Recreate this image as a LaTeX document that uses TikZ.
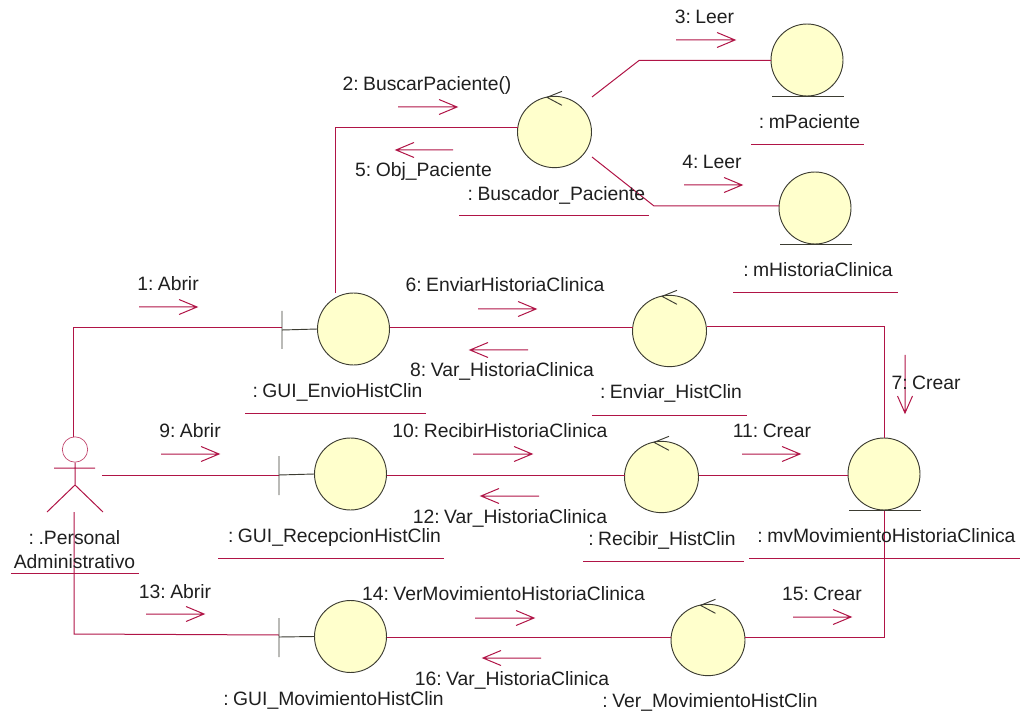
\documentclass[tikz,border=0pt]{standalone}
\usepackage{fontspec}
\setmainfont[WordSpace=0.5]{Liberation Sans}
\usetikzlibrary{calc,shapes.geometric}
\definecolor{ln}{RGB}{176,20,70}
\definecolor{fillc}{RGB}{255,255,204}
\definecolor{edgec}{RGB}{60,60,50}
\tikzset{
 x=0.75pt,y=-0.75pt,
 conn/.style={draw=ln,line width=0.75pt},
 ball/.style={circle,draw=edgec,fill=fillc,line width=0.7pt,minimum size=54pt,inner sep=0pt,outer sep=0pt},
 cball/.style={ellipse,draw=edgec,fill=fillc,line width=0.7pt,minimum width=55.5pt,minimum height=53.5pt,inner sep=0pt,outer sep=0pt},
 glyph/.style={draw=edgec,line width=0.7pt},
 lbl/.style={font=\fontsize{14.5}{18}\selectfont,inner sep=0pt,text=black!88,align=center,text height=10pt,text depth=3pt,yshift=-1.5pt},
 msg/.style={draw=ln,line width=0.75pt},
}
\newcommand{\marrowR}[3]{%
 \draw[msg] (#1,#3) -- (#2,#3) (#2-18,#3-7.5) -- (#2,#3) -- (#2-18,#3+7.5);}
\newcommand{\marrowL}[3]{%
 \draw[msg] (#1,#3) -- (#2,#3) (#2+18,#3-7.5) -- (#2,#3) -- (#2+18,#3+7.5);}
\newcommand{\ctrl}[1]{%
 \draw[glyph] ($(#1.north)+(7.5,-5)$) -- ($(#1.north)+(-7.5,1)$) -- ($(#1.north)+(7.5,9)$);}
\newcommand{\under}[3]{\draw[conn] (#1,#3) -- (#2,#3);}
\begin{document}
\begin{tikzpicture}
\useasboundingbox (0,0) rectangle (1032,720);
\coordinate (actorTop) at (73,437);
\coordinate (actorR) at (102,475);
\coordinate (actorB) at (74,512);
\coordinate (bndE) at (282,327.5);
\coordinate (bndR) at (279,475);
\coordinate (bndM) at (279,635);
\coordinate (elbowA) at (73,327.5);
\coordinate (elbowM) at (74,634);
\coordinate (busL) at (335,128);
\coordinate (envT) at (335,293);
\coordinate (bus1) at (592,97);
\coordinate (bus2) at (592,157);
\coordinate (elb1) at (639,60.5);
\coordinate (elb2) at (654,206);
\coordinate (elbEM) at (884,327);
\coordinate (elbVM) at (884,637.5);
% balls
\node[ball] (env) at (353.5,329) {};
\node[ball] (rec) at (350.5,474) {};
\node[ball] (mov) at (350.5,636.5) {};
\node[cball] (bus) at (554.5,132) {};
\node[ball] (mpa) at (807,60) {};
\node[ball] (mhi) at (815,208) {};
\node[cball] (enc) at (669.5,331) {};
\node[cball] (rcc) at (661.5,477) {};
\node[cball] (vec) at (708,640) {};
\node[ball] (mvm) at (884,474) {};
% associations
\draw[conn] (actorTop) -- (elbowA) -- (bndE);
\draw[conn] (actorR) -- (bndR);
\draw[conn] (actorB) -- (elbowM) -- (bndM);
\draw[conn] (envT) -- (busL) -- (bus.west |- busL);
\draw[conn] (bus1) -- (elb1) -- (mpa.west |- elb1);
\draw[conn] (bus2) -- (elb2) -- (mhi.west |- elb2);
\draw[conn] (env.east |- 0,328) -- (enc.west |- 0,328);
\draw[conn] (rec.east |- 0,475) -- (rcc.west |- 0,475);
\draw[conn] (mov.east |- 0,637) -- (vec.west |- 0,637);
\draw[conn] (enc.east |- elbEM) -- (elbEM) -- (mvm.north);
\draw[conn] (rcc.east |- 0,475) -- (mvm.west |- 0,475);
\draw[conn] (vec.east |- elbVM) -- (elbVM) -- (mvm.south);
% class glyphs
\draw[glyph] (282,311) -- (282,349) (282,330) -- (env.west);
\draw[glyph] (279,456) -- (279,495) (279,475) -- (rec.west);
\draw[glyph] (279,618) -- (279,657) (279,637) -- (mov.west);
\ctrl{bus}\ctrl{enc}\ctrl{rcc}\ctrl{vec}
\draw[glyph] (772,96.5) -- (844,96.5);
\draw[glyph] (780,244.5) -- (852,244.5);
\draw[glyph] (849,510.5) -- (921,510.5);
% actor
\node[circle,draw=ln!80,line width=0.5pt,minimum size=19pt,inner sep=0pt] (hd) at (75,449.5) {};
\draw[conn] (hd.south) -- (75,485) (54,468) -- (95,468) (47,512) -- (75,485) -- (103,512);
% message arrows
\marrowR{139}{197}{307}
\marrowR{161}{219}{454}
\marrowR{146}{204}{614}
\marrowR{398}{457}{107}
\marrowL{453}{396}{150}
\marrowR{676}{735}{40}
\marrowR{684}{742}{185}
\marrowR{478}{536}{309}
\marrowL{528}{470}{350}
\marrowR{473}{532}{454}
\marrowL{539}{481}{496}
\marrowR{742}{800}{454}
\marrowR{475}{534}{618}
\marrowL{541}{483}{658}
\marrowR{793}{851}{617}
\draw[msg] (905,355) -- (905,413) (897.5,396) -- (905,413) -- (912.5,396);
% labels
\node[lbl] (l1) at (168,284) {1: Abrir};
\node[lbl] (l2) at (427,84) {2: BuscarPaciente()};
\node[lbl] (l3) at (704.5,17) {3: Leer};
\node[lbl] (l4) at (712,162) {4: Leer};
\node[lbl] (l5) at (423.5,170) {5: Obj\_Paciente};
\node[lbl] (l6) at (505,285) {6: EnviarHistoriaClinica};
\node[lbl] (l7) at (926,383) {7: Crear};
\node[lbl] (l8) at (502,370) {8: Var\_HistoriaClinica};
\node[lbl] (l9) at (190,431) {9: Abrir};
\node[lbl] (l10) at (500,431) {10: RecibirHistoriaClinica};
\node[lbl] (l11) at (772,431) {11: Crear};
\node[lbl] (l12) at (510,517) {12: Var\_HistoriaClinica};
\node[lbl] (l13) at (175,592) {13: Abrir};
\node[lbl] (l14) at (503.5,594) {14: VerMovimientoHistoriaClinica};
\node[lbl] (l15) at (822,594) {15: Crear};
\node[lbl] (l16) at (512,679) {16: Var\_HistoriaClinica};
% object names
\node[lbl] (n1) at (556.5,194) {: Buscador\_Paciente};
\node[lbl] (n2) at (809.5,122) {: mPaciente};
\node[lbl] (n3) at (818,270) {: mHistoriaClinica};
\node[lbl] (n4) at (337.5,391) {: GUI\_EnvioHistClin};
\node[lbl] (n5) at (334.5,536) {: GUI\_RecepcionHistClin};
\node[lbl] (n6) at (333.5,699) {: GUI\_MovimientoHistClin};
\node[lbl] (n7) at (671,392) {: Enviar\_HistClin};
\node[lbl] (n8) at (662,539) {: Recibir\_HistClin};
\node[lbl] (n9) at (710,701) {: Ver\_MovimientoHistClin};
\node[lbl] (n10) at (886.5,536) {: mvMovimientoHistoriaClinica};
\node[lbl] (n11) at (74.5,538) {: .Personal};
\node[lbl] (n12) at (74.5,562) {Administrativo};
% underlines
\under{459}{649}{216}
\under{751}{864}{144.5}
\under{733}{898}{293}
\under{245}{426}{413.5}
\under{218}{444}{558.5}
\under{592}{747}{415}
\under{583}{744}{561}
\under{749}{1020}{558}
\under{11}{139}{573}
\end{tikzpicture}
\end{document}
